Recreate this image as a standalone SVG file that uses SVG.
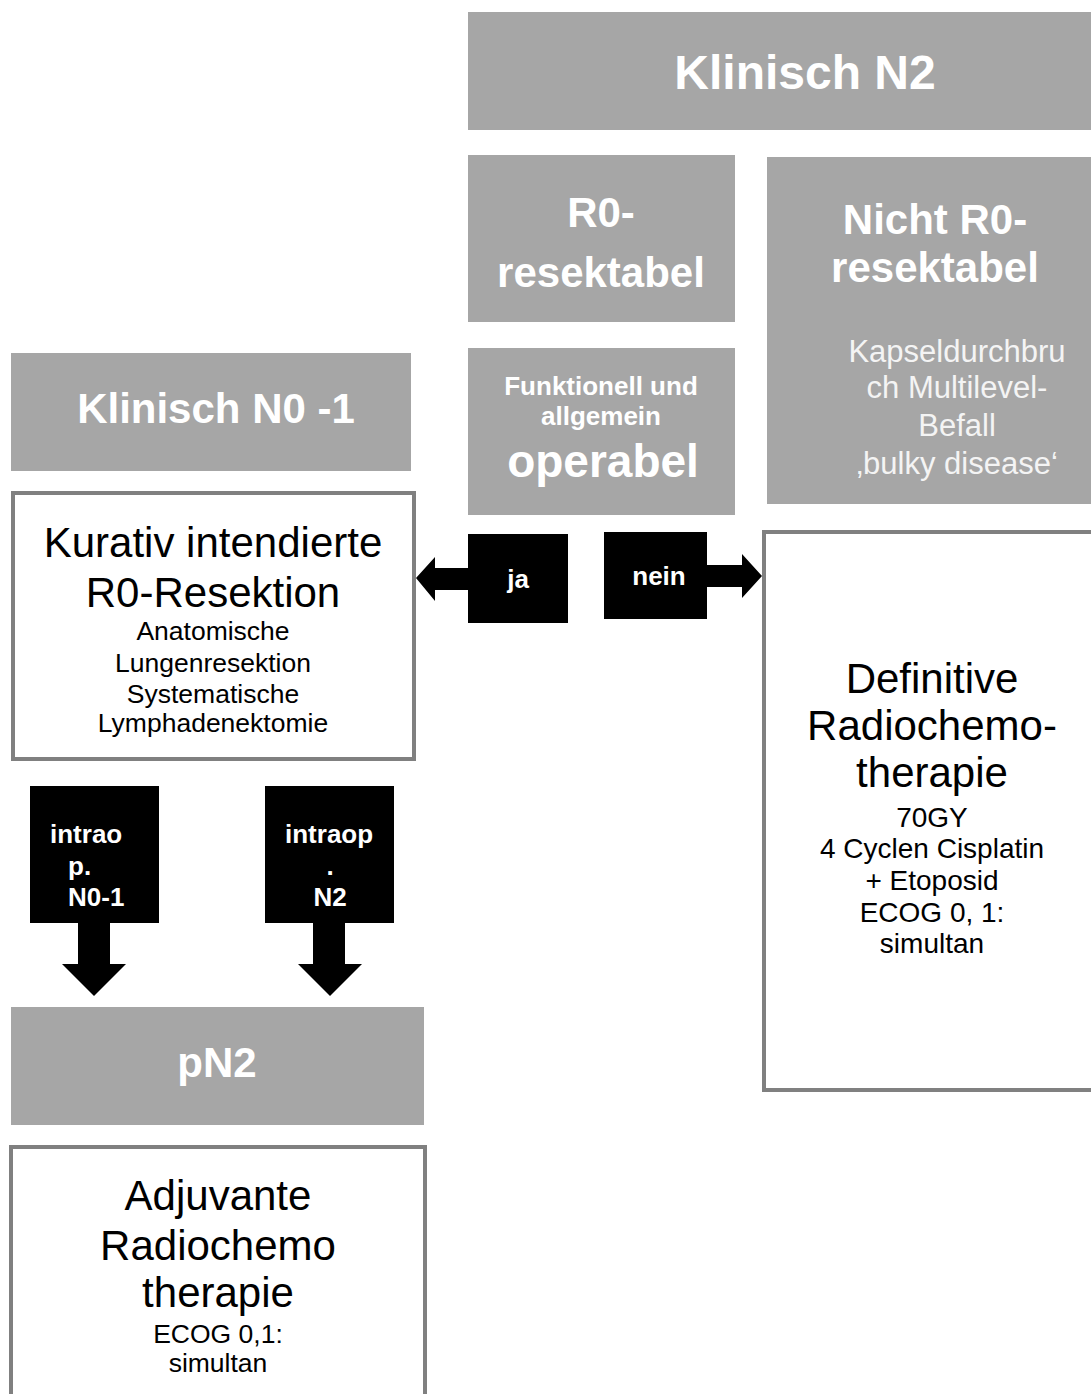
<svg xmlns="http://www.w3.org/2000/svg" width="1091" height="1394" viewBox="0 0 1091 1394">
<style>
text{font-family:"Liberation Sans",Arial,sans-serif;}
.g{fill:#a6a6a6;}
.w{fill:#ffffff;stroke:#808080;stroke-width:4;}
.hb{fill:#ffffff;font-weight:bold;text-anchor:middle;}
.k{fill:#000000;text-anchor:middle;}
.lab{fill:#ffffff;font-weight:bold;font-size:26px;}
.arr{fill:#000000;}
</style>
<rect width="1091" height="1394" fill="#ffffff"/>
<g id="klinisch-n2">
<rect class="g" x="468" y="12" width="680" height="118"/>
<text class="hb" x="805" y="89" font-size="48">Klinisch N2</text>
</g>
<g id="r0-resektabel">
<rect class="g" x="468" y="155" width="267" height="167"/>
<text class="hb" x="601" y="227" font-size="42">R0-</text>
<text class="hb" x="601" y="287" font-size="42">resektabel</text>
</g>
<g id="nicht-r0-resektabel">
<rect class="g" x="767" y="157" width="340" height="347"/>
<text class="hb" x="935" y="234" font-size="42">Nicht R0-</text>
<text class="hb" x="935" y="282" font-size="42">resektabel</text>
<g fill="#f4f4f4" font-size="31" text-anchor="middle">
<text x="957" y="362">Kapseldurchbru</text>
<text x="957" y="398">ch Multilevel-</text>
<text x="957" y="436">Befall</text>
<text x="957" y="474">‚bulky disease‘</text>
</g>
</g>
<g id="operabel">
<rect class="g" x="468" y="348" width="267" height="167"/>
<text class="hb" x="601" y="395" font-size="26">Funktionell und</text>
<text class="hb" x="601" y="425" font-size="26">allgemein</text>
<text class="hb" x="603" y="477" font-size="46">operabel</text>
</g>
<g id="klinisch-n0-1">
<rect class="g" x="11" y="353" width="400" height="118"/>
<text class="hb" x="216" y="423" font-size="42">Klinisch N0 -1</text>
</g>
<g id="kurativ">
<rect class="w" x="13" y="493" width="401" height="266"/>
<text class="k" x="213" y="557" font-size="42">Kurativ intendierte</text>
<text class="k" x="213" y="607" font-size="42">R0-Resektion</text>
<g class="k" font-size="26.5">
<text x="213" y="640">Anatomische</text>
<text x="213" y="672">Lungenresektion</text>
<text x="213" y="703">Systematische</text>
<text x="213" y="732">Lymphadenektomie</text>
</g>
</g>
<g id="definitive">
<rect class="w" x="764" y="532" width="340" height="558"/>
<text class="k" x="932" y="693" font-size="42">Definitive</text>
<text class="k" x="932" y="740" font-size="42">Radiochemo-</text>
<text class="k" x="932" y="787" font-size="42">therapie</text>
<g class="k" font-size="28">
<text x="932" y="827">70GY</text>
<text x="932" y="858">4 Cyclen Cisplatin</text>
<text x="932" y="890">+ Etoposid</text>
<text x="932" y="922">ECOG 0, 1:</text>
<text x="932" y="953">simultan</text>
</g>
</g>
<g id="pn2">
<rect class="g" x="11" y="1007" width="413" height="118"/>
<text class="hb" x="217" y="1077" font-size="42">pN2</text>
</g>
<g id="adjuvante">
<rect class="w" x="11" y="1147" width="414" height="300"/>
<text class="k" x="218" y="1210" font-size="42">Adjuvante</text>
<text class="k" x="218" y="1260" font-size="42">Radiochemo</text>
<text class="k" x="218" y="1307" font-size="42">therapie</text>
<text class="k" x="218" y="1343" font-size="26.5">ECOG 0,1:</text>
<text class="k" x="218" y="1372" font-size="26.5">simultan</text>
</g>
<g id="connectors">
<polygon class="arr" points="468,534 568,534 568,623 468,623 468,590 435,590 435,601 416,578 435,557 435,568 468,568"/>
<text class="lab" x="518" y="588" text-anchor="middle" font-size="24">ja</text>
<polygon class="arr" points="604,532 707,532 707,565 742,565 742,554 762,576 742,598 742,587 707,587 707,619 604,619"/>
<text class="lab" x="659" y="585" text-anchor="middle" font-size="25.5">nein</text>
<polygon class="arr" points="30,786 159,786 159,923 110,923 110,964 126,964 94,996 62,964 78,964 78,923 30,923"/>
<text class="lab" x="50" y="843">intrao</text>
<text class="lab" x="68" y="875">p.</text>
<text class="lab" x="68" y="906">N0-1</text>
<polygon class="arr" points="265,786 394,786 394,923 345,923 345,964 362,964 330,996 298,964 313,964 313,923 265,923"/>
<text class="lab" x="285" y="843">intraop</text>
<text class="lab" x="330" y="875" text-anchor="middle">.</text>
<text class="lab" x="330" y="906" text-anchor="middle">N2</text>
</g>
</svg>
